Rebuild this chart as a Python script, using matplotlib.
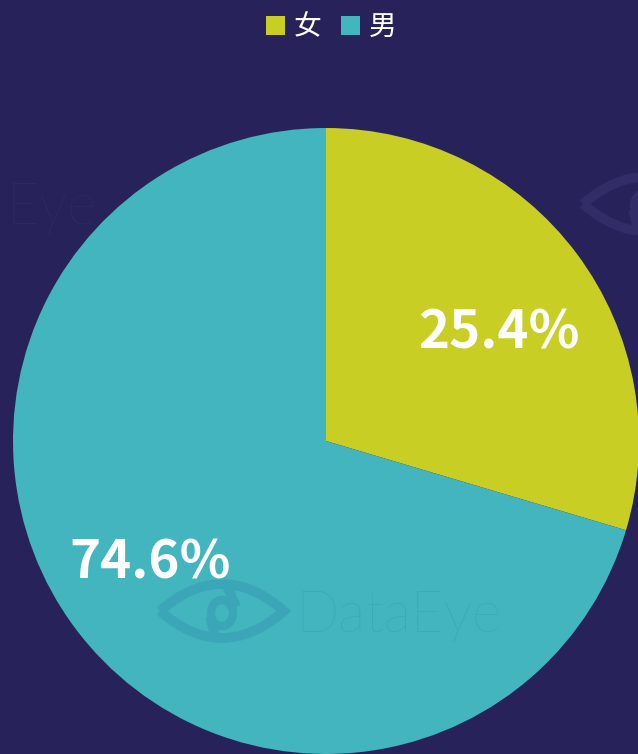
import matplotlib
matplotlib.use("Agg")
import matplotlib.pyplot as plt
from matplotlib.patches import Patch, PathPatch, Circle
from matplotlib.path import Path

categories = ["女", "男"]
# slice sizes as drawn in the picture (the labels shown differ from the drawn angles)
slice_sizes = [29.6, 70.4]
label_texts = ["25.4%", "74.6%"]
colors = ["#C9CE24", "#42B5BE"]

bg = "#28225A"
W, H = 638, 754
plt.rcParams['font.family'] = ['Noto Sans CJK SC', 'DejaVu Sans']

fig = plt.figure(figsize=(W / 100, H / 100), dpi=100, facecolor=bg)
ax = fig.add_axes([13 / W, 0.0, 626 / W, 626 / H])
ax.set_facecolor(bg)
labels_iter = iter(label_texts)
wedges, _, autotexts = ax.pie(
    slice_sizes, colors=colors, startangle=90, counterclock=False, radius=1.0,
    wedgeprops=dict(linewidth=0), autopct=lambda p: next(labels_iter),
    pctdistance=0.66,
    textprops=dict(color='white', fontsize=38, fontweight='bold'))
# label placement as in the reference (slightly rotated from slice midpoints)
label_xy = [(0.552, 0.345), (-0.562, -0.390)]
for t, xy in zip(autotexts, label_xy):
    t.set_position(xy)
    t.set_zorder(5)
ax.set_xlim(-1, 1)
ax.set_ylim(-1, 1)
ax.set_aspect('equal')
ax.axis('off')


def px(x, y):
    return (x / W, 1 - y / H)


def eye(cx, cy, w, h, color):
    l = px(cx - w / 2, cy)
    r = px(cx + w / 2, cy)
    t = px(cx, cy - 2 * h)
    b = px(cx, cy + 2 * h)
    verts = [l, t, r, b, l]
    codes = [Path.MOVETO, Path.CURVE3, Path.CURVE3, Path.CURVE3, Path.CURVE3]
    kw = dict(transform=fig.transFigure, zorder=10)
    fig.add_artist(PathPatch(Path(verts, codes), facecolor='none', edgecolor=color,
                             lw=7, **kw))
    fig.add_artist(Circle(px(cx, cy + 2), 11 / W, facecolor='none', edgecolor=color,
                          lw=6, **kw))
    fig.add_artist(PathPatch(Path([px(cx + 4, cy - 27), px(cx + 14, cy - 4)]),
                             edgecolor=color, lw=7, **kw))
    fig.add_artist(PathPatch(Path([px(cx - 12, cy + 6), px(cx - 6, cy + 28)]),
                             edgecolor=color, lw=7, **kw))


# watermarks
wm_on_teal = '#3BA6B7'
wm_on_bg = '#322C67'
fig.text(295 / W, 1 - 616 / H, "DataEye", color=wm_on_teal, fontsize=41,
         family='Lato', fontweight='light', ha='left', va='center', zorder=10)
eye(222, 611, 124, 27, wm_on_teal)
fig.text(6 / W, 1 - 208 / H, "Eye", color=wm_on_bg, fontsize=41,
         family='Lato', fontweight='light', ha='left', va='center', zorder=10)
eye(645, 204, 124, 27, wm_on_bg)

handles = [Patch(facecolor=c, edgecolor='none') for c in colors]
fig.legend(handles, categories, loc='center', bbox_to_anchor=(331 / W, 1 - 27 / H),
           ncol=2, frameon=False, fontsize=20, labelcolor='white',
           handlelength=0.7, handleheight=0.7, handletextpad=0.3, columnspacing=0.7)

fig.savefig("out.png", dpi=100, facecolor=bg)
